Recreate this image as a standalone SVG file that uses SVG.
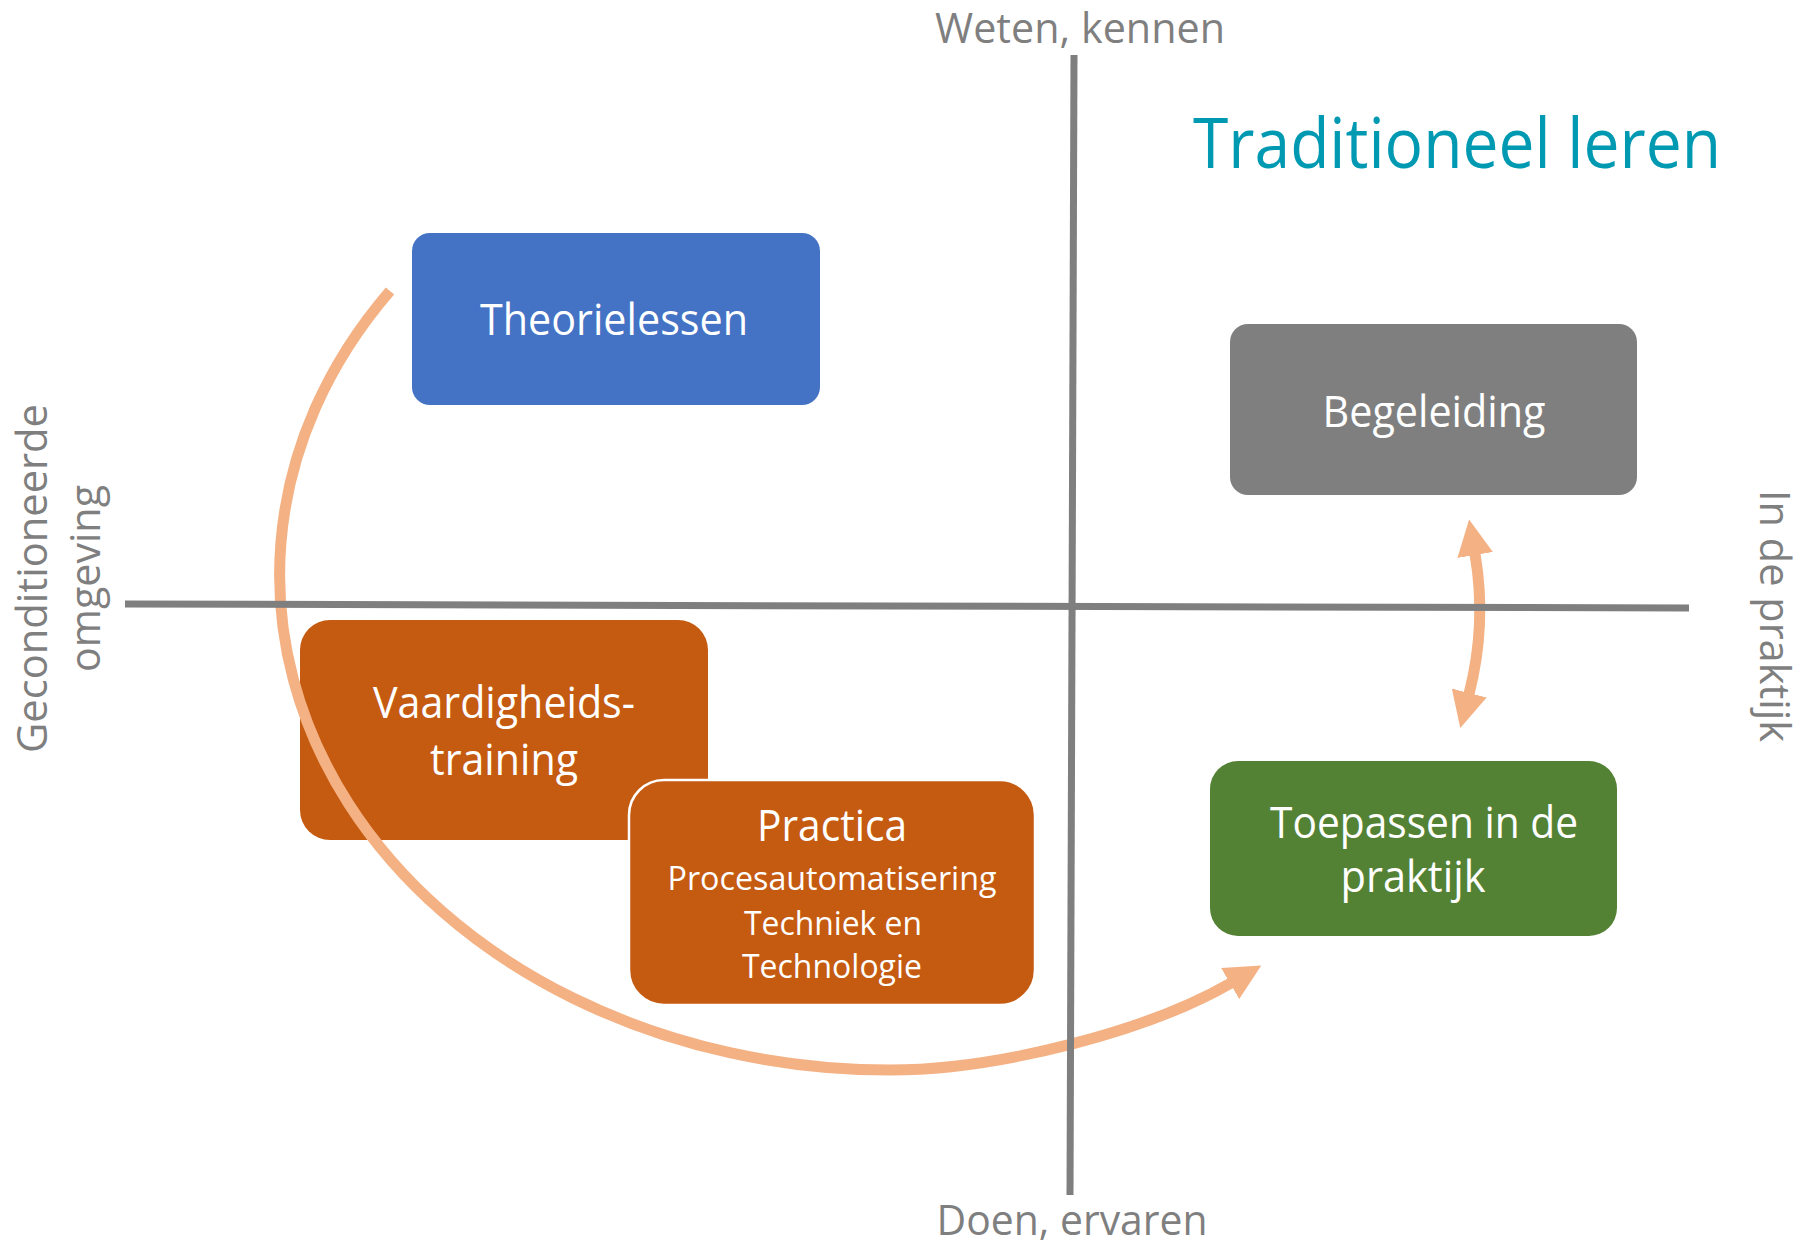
<svg xmlns="http://www.w3.org/2000/svg" width="1810" height="1244" viewBox="0 0 1810 1244">
<defs>
<style>
text{font-family:"Open Sans","Noto Sans","DejaVu Sans",sans-serif;}
.box{stroke:none;}
.lbl{fill:#ffffff;font-size:43px;text-anchor:middle;}
.sub{fill:#ffffff;font-size:32px;text-anchor:middle;}
.axl{fill:#7f7f7f;font-size:42px;text-anchor:middle;}
.axis{stroke:#7f7f7f;stroke-width:7;fill:none;}
.flow{stroke:#F4B183;stroke-width:11;fill:none;}
</style>
<marker id="ah" markerUnits="userSpaceOnUse" viewBox="0 0 36 36" markerWidth="36" markerHeight="36" refX="1" refY="18" orient="auto-start-reverse">
<path d="M0 0 L36 18 L0 36 Z" fill="#F4B183"/>
</marker>
</defs>
<rect width="1810" height="1244" fill="#ffffff"/>

<g id="theorielessen">
<rect class="box" x="412" y="233" width="408" height="172" rx="18" fill="#4472C4"/>
<text class="lbl" x="614" y="335" textLength="268" lengthAdjust="spacingAndGlyphs">Theorielessen</text>
</g>

<g id="begeleiding">
<rect class="box" x="1230" y="324" width="407" height="171" rx="18" fill="#7F7F7F"/>
<text class="lbl" x="1434" y="427" textLength="223" lengthAdjust="spacingAndGlyphs">Begeleiding</text>
</g>

<g id="vaardigheidstraining">
<rect class="box" x="300" y="620" width="408" height="220" rx="30" fill="#C55A11"/>
<text class="lbl" x="504" y="718" textLength="262" lengthAdjust="spacingAndGlyphs">Vaardigheids-</text>
<text class="lbl" x="504" y="775" textLength="148" lengthAdjust="spacingAndGlyphs">training</text>
</g>

<g id="practica">
<rect x="629" y="780" width="406" height="225" rx="35" fill="#C55A11" stroke="#ffffff" stroke-width="2.5"/>
<text class="lbl" x="832" y="841" textLength="150" lengthAdjust="spacingAndGlyphs">Practica</text>
<text class="sub" x="832" y="890" textLength="329" lengthAdjust="spacingAndGlyphs">Procesautomatisering</text>
<text class="sub" x="833" y="935" textLength="178" lengthAdjust="spacingAndGlyphs">Techniek en</text>
<text class="sub" x="832" y="978" textLength="180" lengthAdjust="spacingAndGlyphs">Technologie</text>
</g>

<g id="toepassen">
<rect class="box" x="1210" y="761" width="407" height="175" rx="28" fill="#548235"/>
<text class="lbl" x="1424" y="838" textLength="308" lengthAdjust="spacingAndGlyphs">Toepassen in de</text>
<text class="lbl" x="1413" y="892" textLength="145" lengthAdjust="spacingAndGlyphs">praktijk</text>
</g>

<g id="connectors">
<path class="flow" d="M 390 291 A 610 495 0 0 0 890 1070 C 1000 1070 1150 1030 1231 983" marker-end="url(#ah)"/>
<path class="flow" d="M 1475 554 Q 1487 624 1469 694" marker-start="url(#ah)" marker-end="url(#ah)"/>
</g>

<g id="axes">
<line class="axis" x1="1074" y1="55" x2="1070" y2="1195"/>
<line class="axis" x1="125" y1="604" x2="1689" y2="608"/>
</g>

<g id="labels">
<text class="axl" x="1080" y="43" textLength="290" lengthAdjust="spacingAndGlyphs">Weten, kennen</text>
<text class="axl" x="1072" y="1235" textLength="271" lengthAdjust="spacingAndGlyphs">Doen, ervaren</text>
<text class="axl" transform="translate(47,578.5) rotate(-90)" x="0" y="0" textLength="349" lengthAdjust="spacingAndGlyphs">Geconditioneerde</text>
<text class="axl" transform="translate(100,578.5) rotate(-90)" x="0" y="0" textLength="187" lengthAdjust="spacingAndGlyphs">omgeving</text>
<text class="axl" transform="translate(1760,616) rotate(90)" x="0" y="0" textLength="252" lengthAdjust="spacingAndGlyphs">In de praktijk</text>
<text x="1457" y="168" fill="#0099B2" font-size="70" text-anchor="middle" textLength="528" lengthAdjust="spacingAndGlyphs">Traditioneel leren</text>
</g>
</svg>
